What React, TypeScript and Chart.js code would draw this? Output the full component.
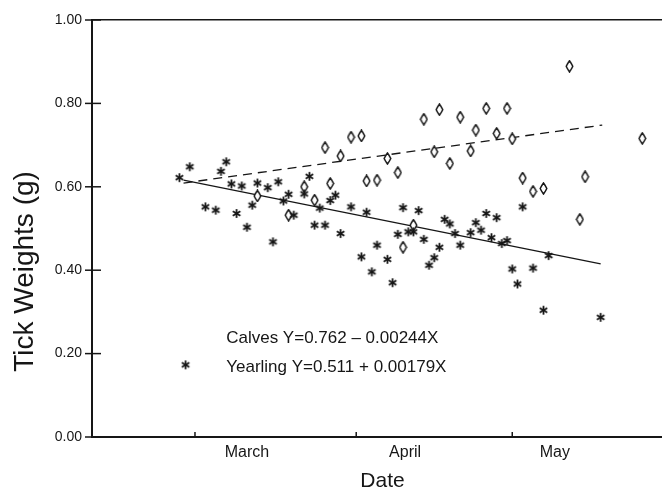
import { useEffect, useRef } from "react";
import { Chart, registerables } from "chart.js";

Chart.register(...registerables);

// ---- data (day of year on x, tick weight in g on y) ----
const monthNames = ["March", "April", "May"];
const monthStartDays = [60, 91, 121];
const monthLabelDays = [70, 100.4, 129.2];
const yTickValues = [0, 0.2, 0.4, 0.6, 0.8, 1.0];

const yearlingDays = [
  57, 59, 66, 65, 67, 69, 72, 74, 76, 82, 81, 78, 77, 71, 62, 64, 68, 70, 75, 79,
  84, 83, 85, 86, 87, 88, 90, 93, 92, 94, 95, 97, 98, 99, 101, 102, 100, 103, 104, 107,
  106, 105, 108, 109, 110, 111, 113, 114, 115, 116, 117, 118, 119, 120, 123, 128, 121, 125, 122, 127,
  138,
];
const yearlingWeights = [
  0.622, 0.648, 0.66, 0.637, 0.607, 0.602, 0.609, 0.598, 0.612, 0.625, 0.583, 0.582, 0.566, 0.556, 0.552, 0.544, 0.536, 0.503, 0.468, 0.532,
  0.549, 0.508, 0.508, 0.567, 0.58, 0.488, 0.552, 0.539, 0.432, 0.396, 0.46, 0.426, 0.37, 0.486, 0.492, 0.492, 0.55, 0.543, 0.474, 0.455,
  0.43, 0.412, 0.522, 0.511, 0.488, 0.46, 0.49, 0.514, 0.496, 0.536, 0.478, 0.526, 0.464, 0.471, 0.552, 0.435, 0.403, 0.405, 0.367, 0.304,
  0.287,
];

const calvesDays = [
  72, 78, 81, 83, 85, 86, 88, 90, 92, 93, 95, 97, 99, 104, 107, 111, 114, 116, 118, 120,
  121, 106, 109, 113, 132, 146, 123, 125, 127, 135, 134, 102, 100,
];
const calvesWeights = [
  0.578, 0.532, 0.6, 0.568, 0.694, 0.608, 0.674, 0.719, 0.722, 0.614, 0.616, 0.668, 0.634, 0.762, 0.785, 0.767, 0.736, 0.788, 0.728, 0.788,
  0.715, 0.684, 0.656, 0.686, 0.889, 0.716, 0.621, 0.589, 0.596, 0.624, 0.522, 0.508, 0.455,
];

const solidLineDays = [57.8, 138];
const solidLineWeights = [0.616, 0.415];
const dashedLineDays = [57.8, 138.3];
const dashedLineWeights = [0.609, 0.748];

const legendLines = ["Calves Y=0.762 \u2013 0.00244X", "Yearling Y=0.511 + 0.00179X"];
const xTitle = "Date";
const yTitle = "Tick Weights (g)";

const INK = "#161616";
const FONT = '"Liberation Sans", Arial, Helvetica, sans-serif';

function makeAsterisk(): HTMLCanvasElement {
  const c = document.createElement("canvas");
  c.width = 11;
  c.height = 11;
  const g = c.getContext("2d")!;
  g.strokeStyle = INK;
  g.lineWidth = 1.8;
  const cx = 5.5, cy = 5.5, r = 4.4;
  for (let k = 0; k < 3; k++) {
    const a = Math.PI / 2 + (k * Math.PI) / 3;
    g.beginPath();
    g.moveTo(cx + r * Math.cos(a), cy + r * Math.sin(a));
    g.lineTo(cx - r * Math.cos(a), cy - r * Math.sin(a));
    g.stroke();
  }
  g.fillStyle = INK;
  g.beginPath();
  g.arc(cx, cy, 1.6, 0, Math.PI * 2);
  g.fill();
  return c;
}

function makeDiamond(): HTMLCanvasElement {
  const c = document.createElement("canvas");
  c.width = 9;
  c.height = 13;
  const g = c.getContext("2d")!;
  g.strokeStyle = INK;
  g.fillStyle = "#ffffff";
  g.lineWidth = 1.5;
  g.beginPath();
  g.moveTo(4.5, 1);
  g.quadraticCurveTo(6.7, 4, 7.8, 6.5);
  g.quadraticCurveTo(6.7, 9, 4.5, 12);
  g.quadraticCurveTo(2.3, 9, 1.2, 6.5);
  g.quadraticCurveTo(2.3, 4, 4.5, 1);
  g.closePath();
  g.fill();
  g.stroke();
  return c;
}

const decorPlugin = {
  id: "decor",
  afterDraw(chart: any) {
    const ctx: CanvasRenderingContext2D = chart.ctx;
    const xs = chart.scales.x;
    const ys = chart.scales.y;
    const area = chart.chartArea;
    ctx.save();
    ctx.strokeStyle = INK;
    ctx.lineWidth = 1.5;
    yTickValues.forEach((v) => {
      const py = ys.getPixelForValue(v);
      ctx.beginPath();
      ctx.moveTo(area.left - 7, py);
      ctx.lineTo(area.left + 9, py);
      ctx.stroke();
    });
    monthStartDays.forEach((d) => {
      const px = xs.getPixelForValue(d);
      ctx.beginPath();
      ctx.moveTo(px, area.bottom);
      ctx.lineTo(px, area.bottom - 5);
      ctx.stroke();
    });

    ctx.fillStyle = INK;
    ctx.textBaseline = "middle";
    ctx.textAlign = "left";
    ctx.font = `17px ${FONT}`;
    const lx = xs.getPixelForValue(66);
    ctx.fillText(legendLines[0], lx, ys.getPixelForValue(0.236));
    ctx.fillText(legendLines[1], lx, ys.getPixelForValue(0.167));
    const star = (chart.data.datasets[0] as any).pointStyle as HTMLCanvasElement;
    const sx = xs.getPixelForValue(58.2);
    const sy = ys.getPixelForValue(0.173);
    ctx.drawImage(star, sx - star.width / 2, sy - star.height / 2);

    ctx.font = `21px ${FONT}`;
    ctx.textAlign = "center";
    ctx.fillText(xTitle, (area.left + area.right) / 2 + 6, 481);
    ctx.font = `28px ${FONT}`;
    ctx.translate(25, (area.top + area.bottom) / 2 + 43);
    ctx.rotate(-Math.PI / 2);
    ctx.fillText(yTitle, 0, 0);
    ctx.restore();
  },
};

export default function App() {
  const ref = useRef<HTMLCanvasElement | null>(null);

  useEffect(() => {
    document.body.style.margin = "0";
    const canvas = ref.current!;
    const star = makeAsterisk();
    const diamond = makeDiamond();

    const chart = new Chart(canvas, {
      type: "scatter",
      data: {
        datasets: [
          {
            label: "Yearling",
            data: yearlingDays.map((d, i) => ({ x: d, y: yearlingWeights[i] })),
            pointStyle: star as any,
            pointRadius: 4,
            pointHoverRadius: 4,
          },
          {
            label: "Calves",
            data: calvesDays.map((d, i) => ({ x: d, y: calvesWeights[i] })),
            pointStyle: diamond as any,
            pointRadius: 4,
            pointHoverRadius: 4,
          },
          {
            label: "Fit solid",
            type: "line" as any,
            data: solidLineDays.map((d, i) => ({ x: d, y: solidLineWeights[i] })),
            showLine: true,
            borderColor: INK,
            borderWidth: 1.3,
            pointRadius: 0,
            fill: false,
          },
          {
            label: "Fit dashed",
            type: "line" as any,
            data: dashedLineDays.map((d, i) => ({ x: d, y: dashedLineWeights[i] })),
            showLine: true,
            borderColor: INK,
            borderWidth: 1.3,
            borderDash: [9, 6],
            pointRadius: 0,
            fill: false,
          },
        ],
      },
      options: {
        animation: false,
        responsive: false,
        layout: { padding: { top: 20, right: 0, left: 0, bottom: 0 } },
        plugins: { legend: { display: false }, tooltip: { enabled: false } },
        scales: {
          x: {
            type: "linear",
            min: 40.2,
            max: 149.6,
            afterBuildTicks: (s: any) => {
              s.ticks = monthLabelDays.map((v) => ({ value: v }));
            },
            afterFit: (s: any) => {
              s.height = 57;
            },
            grid: { display: false, drawTicks: false },
            border: { display: true, color: INK, width: 2 },
            ticks: {
              autoSkip: false,
              maxRotation: 0,
              padding: 6,
              color: INK,
              font: { family: FONT, size: 16 },
              callback: (_v: any, i: number) => monthNames[i],
            },
          },
          x2: {
            type: "linear",
            position: "top",
            min: 0,
            max: 1,
            afterFit: (s: any) => {
              s.height = 0;
            },
            grid: { display: false, drawTicks: false },
            border: { display: true, color: INK, width: 1.5 },
            ticks: { display: false },
          },
          y: {
            type: "linear",
            min: 0,
            max: 1,
            afterBuildTicks: (s: any) => {
              s.ticks = yTickValues.map((v) => ({ value: v }));
            },
            afterFit: (s: any) => {
              s.width = 92;
            },
            grid: { display: false, drawTicks: false },
            border: { display: true, color: INK, width: 2 },
            ticks: {
              padding: 10,
              color: INK,
              font: { family: FONT, size: 14 },
              callback: (v: any) => Number(v).toFixed(2),
            },
          },
        },
      },
      plugins: [decorPlugin],
    });
    return () => chart.destroy();
  }, []);

  return <canvas ref={ref} width={666} height={494} style={{ display: "block" }} />;
}
